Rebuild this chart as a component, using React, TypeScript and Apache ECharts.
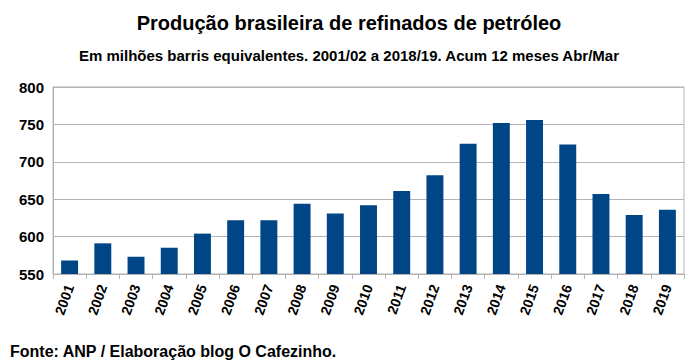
import React, { useEffect, useRef } from "react";
import * as echarts from "echarts";

const years = ["2001","2002","2003","2004","2005","2006","2007","2008","2009","2010","2011","2012","2013","2014","2015","2016","2017","2018","2019"];
const production = [568,591,573,585,604,622,622,644,631,642,661,682,724,752,756,723,657,629,636];
const yTicks = { min: 550, max: 800, interval: 50 };
const titleText = "Produção brasileira de refinados de petróleo";
const subtitleText = "Em milhões barris equivalentes. 2001/02 a 2018/19. Acum 12 meses Abr/Mar";
const sourceText = "Fonte: ANP / Elaboração blog O Cafezinho.";

export default function App() {
  const ref = useRef<HTMLDivElement>(null);
  useEffect(() => {
    if (!ref.current) return;
    const chart = echarts.init(ref.current, null, { renderer: "svg" });
    const font = "'Liberation Sans', Arial, sans-serif";
    chart.setOption({
      animation: false,
      backgroundColor: "#ffffff",
      textStyle: { fontFamily: font },
      title: [
        { text: titleText, left: "center", top: 8, textStyle: { fontSize: 20, fontWeight: "bold", color: "#000", fontFamily: font } },
        { text: subtitleText, left: "center", top: 43, textStyle: { fontSize: 15, fontWeight: "bold", color: "#000", fontFamily: font } },
        { text: sourceText, left: 5, top: 338, textStyle: { fontSize: 16, fontWeight: "bold", color: "#000", fontFamily: font } },
      ],
      grid: { left: 53, right: 14, top: 87, bottom: 90, show: true, borderColor: "#b3b3b3", borderWidth: 1 },
      xAxis: {
        type: "category",
        data: years,
        axisLine: { show: true, lineStyle: { color: "#b3b3b3" } },
        axisTick: { show: true, alignWithLabel: false, length: 5, lineStyle: { color: "#b3b3b3" } },
        axisLabel: { rotate: 70, fontSize: 14, fontWeight: "bold", color: "#000", margin: 11, interval: 0, fontFamily: font },
      },
      yAxis: {
        type: "value",
        min: yTicks.min,
        max: yTicks.max,
        interval: yTicks.interval,
        axisLine: { show: true, lineStyle: { color: "#b3b3b3" } },
        axisTick: { show: false },
        splitLine: { show: true, lineStyle: { color: "#b3b3b3" } },
        axisLabel: { fontSize: 15, fontWeight: "bold", color: "#000", margin: 9, fontFamily: font },
      },
      series: [
        { type: "bar", data: production, barWidth: "51%", itemStyle: { color: "#004586" } },
      ],
    });
    return () => chart.dispose();
  }, []);
  return <div ref={ref} style={{ width: 698, height: 364, position: "absolute", left: 0, top: 0 }} />;
}
